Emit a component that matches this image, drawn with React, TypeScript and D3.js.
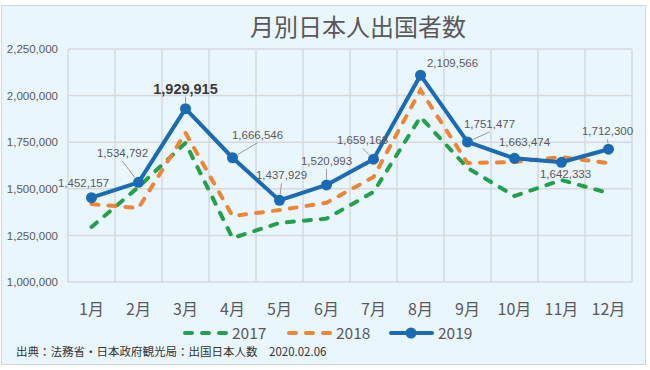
import React, { useRef, useEffect } from 'react'
import * as d3 from 'd3'

const months = ['1月', '2月', '3月', '4月', '5月', '6月', '7月', '8月', '9月', '10月', '11月', '12月']
const v2017 = [1295000, 1510000, 1746000, 1236000, 1317000, 1340000, 1483000, 1885000, 1612000, 1461000, 1547000, 1477000]
const v2018 = [1418000, 1397000, 1800000, 1354000, 1386000, 1425000, 1563000, 2030000, 1638000, 1644000, 1670000, 1638000]
const v2019 = [1452157, 1534792, 1929915, 1666546, 1437929, 1520993, 1659168, 2109566, 1751477, 1663474, 1642333, 1712300]
const yTicks = [1000000, 1250000, 1500000, 1750000, 2000000, 2250000]
const seriesNames = ['2017', '2018', '2019']

// where each 2019 label sits relative to its point (px)
const labelOffsets = [[-8, -15], [-16, -29], [0, -20], [25, -23], [2, -25], [0, -24], [-11, -19], [32, -12], [22, -18], [10, -16], [4, 12], [-1, -18]]

const W = 650
const H = 370
const green = '#22a04c'
const orange = '#ee8535'
const blue = '#1a6bb3'
const numFont = '"Liberation Sans", Arial, sans-serif'
const jpFont = '"Noto Sans CJK JP", "Noto Sans", sans-serif'

function App() {
  const svgRef = useRef<SVGSVGElement>(null)

  useEffect(() => {
    const svg = d3.select(svgRef.current)
    svg.selectAll('*').remove()

    const x = d3.scaleBand<string>().domain(months).range([68, 632])
    const y = d3.scaleLinear().domain([1000000, 2250000]).range([282, 49])
    const cx = (i: number) => (x(months[i]) as number) + x.bandwidth() / 2

    // card
    svg.append('rect').attr('x', 1.5).attr('y', 5.5).attr('width', 644).attr('height', 359)
      .attr('fill', '#eaf6fd').attr('stroke', '#d2d6d9')

    svg.append('text').attr('x', 358).attr('y', 36).attr('text-anchor', 'middle')
      .attr('font-family', jpFont).attr('font-size', 24).attr('fill', '#595959')
      .text('月別日本人出国者数')

    // grid
    const grid = svg.append('g').attr('stroke', '#d5d9dc').attr('stroke-width', 1.5)
    grid.selectAll('.h').data(yTicks).join('line').attr('class', 'h')
      .attr('x1', 68).attr('x2', 632).attr('y1', d => y(d)).attr('y2', d => y(d))
    const vx = months.map(m => x(m) as number).concat([632])
    grid.selectAll('.v').data(vx).join('line').attr('class', 'v')
      .attr('x1', d => d).attr('x2', d => d).attr('y1', y(2250000)).attr('y2', y(1000000))

    // y axis labels
    const yAxis = svg.append('g').attr('transform', 'translate(68,0)')
      .call(d3.axisLeft(y).tickValues(yTicks).tickFormat(d3.format(',')).tickSize(0).tickPadding(10))
    yAxis.select('.domain').remove()
    yAxis.selectAll('text').attr('font-family', numFont).attr('font-size', 11.5).attr('fill', '#595959')

    // x axis labels
    svg.selectAll('.xl').data(months).join('text').attr('class', 'xl')
      .attr('x', (d, i) => cx(i)).attr('y', 315).attr('text-anchor', 'middle')
      .attr('font-family', jpFont).attr('font-size', 16).attr('fill', '#595959')
      .text(d => d)

    const line = d3.line<number>().x((d, i) => cx(i)).y(d => y(d))

    svg.append('path').attr('d', line(v2017)).attr('fill', 'none').attr('stroke', green)
      .attr('stroke-width', 4).attr('stroke-dasharray', '7,10').attr('stroke-linecap', 'round')
    svg.append('path').attr('d', line(v2018)).attr('fill', 'none').attr('stroke', orange)
      .attr('stroke-width', 4).attr('stroke-dasharray', '7,10').attr('stroke-linecap', 'round')

    // leader lines for 2019 labels
    v2019.forEach((v, i) => {
      const [dx, dy] = labelOffsets[i]
      if (dy > -17) return
      const px = cx(i), py = y(v)
      const lx = px + dx, ly = py + dy + 8
      const len = Math.hypot(px - lx, py - ly)
      const k = (len - 6) / len
      svg.append('line').attr('x1', lx).attr('y1', ly)
        .attr('x2', lx + (px - lx) * k).attr('y2', ly + (py - ly) * k)
        .attr('stroke', '#9a9a9a').attr('stroke-width', 1)
    })

    svg.append('path').attr('d', line(v2019)).attr('fill', 'none').attr('stroke', blue)
      .attr('stroke-width', 4).attr('stroke-linejoin', 'round')
    svg.selectAll('.pt').data(v2019).join('circle').attr('class', 'pt')
      .attr('cx', (d, i) => cx(i)).attr('cy', d => y(d)).attr('r', 5.5).attr('fill', blue)

    svg.selectAll('.lbl').data(v2019).join('text').attr('class', 'lbl')
      .attr('x', (d, i) => cx(i) + labelOffsets[i][0]).attr('y', (d, i) => y(d) + labelOffsets[i][1])
      .attr('dy', '0.35em').attr('text-anchor', 'middle').attr('font-family', numFont)
      .attr('font-size', (d, i) => i === 2 ? 14.5 : 11.5)
      .attr('font-weight', (d, i) => i === 2 ? 'bold' : 'normal')
      .attr('fill', (d, i) => i === 2 ? '#3a3a3a' : '#595959')
      .text(d => d3.format(',')(d))

    // legend
    const legX = [183, 287, 389]
    const legColors = [green, orange, blue]
    const leg = svg.selectAll('.leg').data(seriesNames).join('g').attr('class', 'leg')
      .attr('transform', (d, i) => `translate(${legX[i]},333)`)
    leg.append('line').attr('x1', 2).attr('x2', 43).attr('y1', 0).attr('y2', 0)
      .attr('stroke', (d, i) => legColors[i]).attr('stroke-width', 4)
      .attr('stroke-dasharray', (d, i) => i < 2 ? '7,10' : null)
      .attr('stroke-linecap', 'round')
    leg.filter((d, i) => i === 2).append('circle').attr('cx', 22).attr('cy', 0).attr('r', 5.5).attr('fill', blue)
    leg.append('text').attr('x', 49).attr('y', 0).attr('dy', '0.36em')
      .attr('font-family', jpFont).attr('font-size', 15.5).attr('fill', '#595959')
      .text(d => d)

    svg.append('text').attr('x', 16).attr('y', 356)
      .attr('font-family', jpFont).attr('font-size', 11.5).attr('fill', '#333333')
      .text('出典：法務省・日本政府観光局：出国日本人数　2020.02.06')
  }, [])

  return <svg ref={svgRef} width={W} height={H} style={{ position: 'absolute', left: 0, top: 0 }}></svg>
}

export default App
